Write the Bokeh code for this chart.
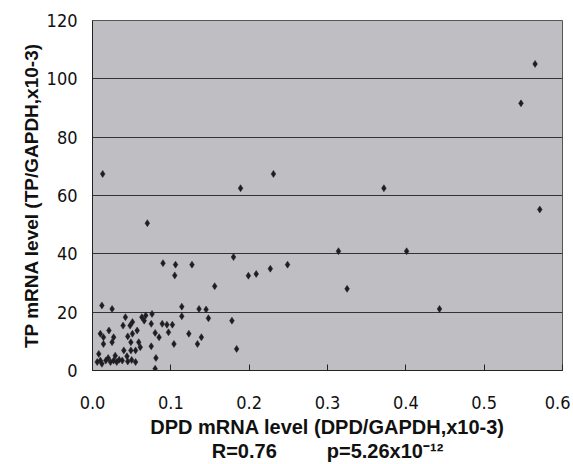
from bokeh.plotting import figure
from bokeh.models import FixedTicker, PrintfTickFormatter, Range1d, Title
from bokeh.embed import file_html
from bokeh.resources import INLINE

# DPD mRNA level (x) and TP mRNA level (y)
dpd = [0.565, 0.547, 0.231, 0.013, 0.372, 0.189, 0.571, 0.070, 0.314, 0.401,
       0.180, 0.090, 0.106, 0.127, 0.249, 0.227, 0.209, 0.199, 0.105, 0.156,
       0.325, 0.443,
       0.114, 0.136, 0.145, 0.114, 0.148, 0.076, 0.068, 0.075, 0.089, 0.095,
       0.102, 0.097, 0.080, 0.085, 0.123, 0.139, 0.134, 0.104, 0.075, 0.081,
       0.080, 0.178, 0.184,
       0.012, 0.025, 0.042, 0.051, 0.063, 0.066, 0.039, 0.048, 0.021, 0.010,
       0.051, 0.027, 0.014, 0.049, 0.059, 0.014, 0.025, 0.040, 0.049, 0.055,
       0.061, 0.008, 0.029, 0.010, 0.017, 0.023, 0.027, 0.034, 0.006, 0.012,
       0.020, 0.031, 0.038, 0.045, 0.050, 0.055, 0.044, 0.057, 0.045]
tp = [105.1, 91.6, 67.4, 67.4, 62.5, 62.5, 55.2, 50.5, 40.9, 40.9,
      38.9, 36.8, 36.3, 36.3, 36.3, 34.9, 33.1, 32.5, 32.6, 28.9,
      28.0, 21.1,
      21.9, 21.1, 20.9, 18.6, 17.9, 19.4, 18.9, 16.0, 16.0, 15.7,
      15.7, 13.1, 12.9, 11.4, 12.6, 11.4, 9.1, 9.1, 8.3, 4.3,
      0.6, 17.1, 7.4,
      22.3, 21.1, 18.3, 16.6, 18.3, 17.1, 15.4, 15.4, 13.7, 12.6,
      12.6, 11.4, 11.4, 9.7, 9.7, 9.1, 9.7, 6.9, 6.9, 6.9,
      8.0, 5.7, 5.1, 3.4, 3.4, 2.9, 3.4, 3.7, 2.9, 2.3,
      4.3, 2.9, 3.4, 3.1, 3.6, 2.9, 4.9, 13.7, 11.7]

x_ticks = [0.0, 0.1, 0.2, 0.3, 0.4, 0.5, 0.6]
y_ticks = [0, 20, 40, 60, 80, 100, 120]

x_title = "DPD mRNA level (DPD/GAPDH,x10-3)"
y_title = "TP mRNA level (TP/GAPDH,x10-3)"
stat_text = "R=0.76" + "\u00a0" * 9 + "p=5.26x10\u207b\u00b9\u00b2"

p = figure(width=570, height=462, output_backend="svg", toolbar_location=None,
           x_range=Range1d(0, 0.6), y_range=Range1d(0, 120),
           min_border_left=92, min_border_right=8, min_border_top=20,
           min_border_bottom=92)

p.background_fill_color = "#bfbfc3"
p.border_fill_color = "white"
p.outline_line_color = "#555555"
p.outline_line_width = 1

p.xgrid.grid_line_color = None
p.ygrid.grid_line_color = "#333333"
p.ygrid.grid_line_width = 1

tick_font = "'DejaVu Sans Condensed', 'Liberation Sans', sans-serif"
bold_font = "'Liberation Sans', Arial, sans-serif"

p.xaxis.ticker = FixedTicker(ticks=x_ticks)
p.xaxis.formatter = PrintfTickFormatter(format="%.1f")
p.xaxis.major_tick_in = 6
p.xaxis.major_tick_out = 0
p.xaxis.minor_tick_line_color = None
p.xaxis.axis_line_color = "#222222"
p.xaxis.major_tick_line_color = "#222222"
p.xaxis.major_label_text_font = tick_font
p.xaxis.major_label_text_font_size = "18px"
p.xaxis.major_label_text_color = "#111111"
p.xaxis.major_label_standoff = 25
p.xaxis.axis_label = x_title
p.xaxis.axis_label_text_font = bold_font
p.xaxis.axis_label_text_font_style = "bold"
p.xaxis.axis_label_text_font_size = "20px"
p.xaxis.axis_label_text_color = "#111111"
p.xaxis.axis_label_standoff = 4

p.yaxis.ticker = FixedTicker(ticks=y_ticks)
p.yaxis.major_tick_in = 0
p.yaxis.major_tick_out = 0
p.yaxis.minor_tick_line_color = None
p.yaxis.axis_line_color = "#222222"
p.yaxis.major_label_text_font = tick_font
p.yaxis.major_label_text_font_size = "18px"
p.yaxis.major_label_text_color = "#111111"
p.yaxis.major_label_standoff = 15
p.yaxis.axis_label = y_title
p.yaxis.axis_label_text_font = bold_font
p.yaxis.axis_label_text_font_style = "bold"
p.yaxis.axis_label_text_font_size = "19px"
p.yaxis.axis_label_text_color = "#111111"
p.yaxis.axis_label_standoff = 2

p.add_layout(Title(text=stat_text, align="center", text_font=bold_font,
                   text_font_style="bold", text_font_size="20px",
                   text_color="#111111", offset=-30, standoff=-5), "below")

p.scatter(dpd, tp, marker="diamond", size=7, fill_color="#1e1e22",
          line_color="#1e1e22", line_width=0.5)

open("out.html", "w").write(file_html(p, INLINE))
